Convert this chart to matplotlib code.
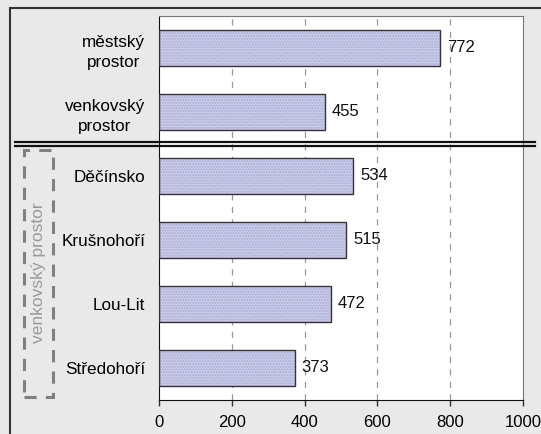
import matplotlib
matplotlib.use("Agg")
import matplotlib.pyplot as plt
from matplotlib.patches import Rectangle
from matplotlib.transforms import blended_transform_factory

categories = ["městský\nprostor", "venkovský\nprostor", "Děčínsko", "Krušnohoří", "Lou-Lit", "Středohoří"]
values = [772, 455, 534, 515, 472, 373]
x_ticks = [0, 200, 400, 600, 800, 1000]
group_label = "venkovský prostor"

plt.rcParams['font.family'] = ['Liberation Sans', 'DejaVu Sans']

W, H = 541, 434
fig = plt.figure(figsize=(W / 100, H / 100), dpi=100)
fig.patch.set_facecolor('#e9e9e9')

ax = fig.add_axes([159 / W, 1 - 400 / H, (523 - 159) / W, (400 - 16) / H])
ax.set_facecolor('white')

pos = list(range(len(categories)))
# hatched fill, then the dark outline on top
ax.barh(pos, values, height=0.55, color='#cbcbea', hatch='......',
        edgecolor='#adadd6', linewidth=0, zorder=2)
ax.barh(pos, values, height=0.55, fill=False, edgecolor='#333333',
        linewidth=1.0, zorder=3)

for p, v in zip(pos, values):
    ax.annotate(str(v), (v, p), xytext=(5, 0), textcoords='offset points',
                va='center', ha='left', fontsize=12, color='#111111')

ax.set_xlim(0, 1000)
ax.set_ylim(len(categories) - 0.5, -0.5)
ax.set_xticks(x_ticks)
ax.set_xticklabels([str(t) for t in x_ticks], fontsize=12)
ax.set_yticks(pos)
ax.set_yticklabels(categories, fontsize=12.3, multialignment='center', linespacing=1.45)
ax.tick_params(axis='y', length=0, pad=10)
ax.tick_params(axis='x', length=4, width=1, direction='out', pad=7, color='#333333')

for t in x_ticks[1:-1]:
    ax.axvline(t, color='#999999', linewidth=0.9, linestyle=(0, (5, 5)), zorder=1)

for side in ['top', 'right']:
    ax.spines[side].set_color('#777777')
    ax.spines[side].set_linewidth(0.8)
ax.spines['left'].set_color('#111111')
ax.spines['bottom'].set_color('#111111')

# double separator line between the two groups
tr = blended_transform_factory(fig.transFigure, ax.transData)
for dy in (-0.033, 0.033):
    ax.plot([15 / W, 535 / W], [1.5 + dy, 1.5 + dy], transform=tr, color='#111111',
            linewidth=1.6, clip_on=False, zorder=5)

# dashed box with rotated group label
fig.add_artist(Rectangle((24 / W, 1 - 397 / H), 29 / W, 247 / H, fill=False,
                         edgecolor='#808080', linewidth=2.2, linestyle=(0, (4, 3))))
fig.text(38.5 / W, 1 - 273 / H, group_label, rotation=90, ha='center', va='center',
         fontsize=12.5, color='#9a9a9a')

# outer frame
fig.add_artist(Rectangle((10 / W, -0.05), 1.1, 1 - 8 / H + 0.05, fill=False,
                         edgecolor='#333333', linewidth=1.5))

fig.savefig('out.png', dpi=100, facecolor=fig.get_facecolor())
